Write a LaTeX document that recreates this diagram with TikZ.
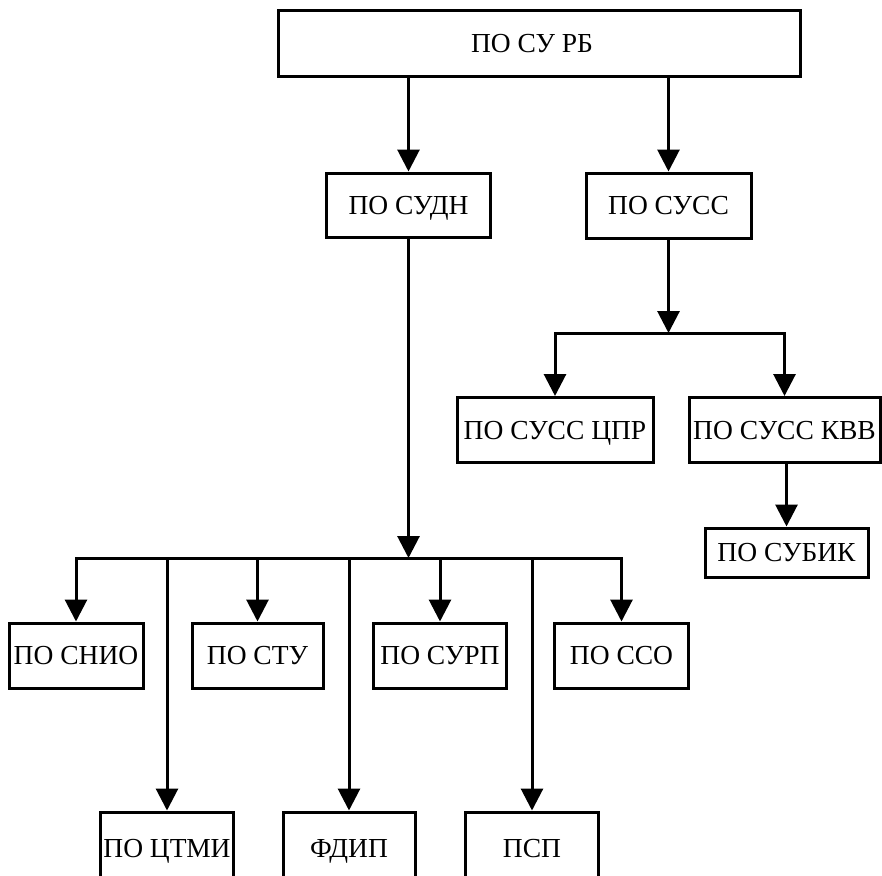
\documentclass[tikz,border=0pt]{standalone}
\usepackage{fontspec}
\setmainfont{Liberation Serif}
\usetikzlibrary{arrows.meta}
\begin{document}
\begin{tikzpicture}[x=1pt,y=-1pt,
  box/.style={draw, line width=3pt, inner sep=0pt, text height=18.2pt, text depth=0pt,
    font=\fontsize{27.5}{32}\selectfont},
  arr/.style={line width=3pt, -{Triangle[length=22pt,width=22pt]}},
  arr2/.style={line width=3pt, {Triangle[length=22pt,width=22pt]}-{Triangle[length=22pt,width=22pt]}}]
\useasboundingbox (0,0) rectangle (882,875);
\clip (0,0) rectangle (882,875);

% first level
\node[box, minimum width=522pt, minimum height=65pt] (top) at (539,43.5) {\hspace*{-14pt}ПО СУ РБ};

% second level
\node[box, minimum width=164pt, minimum height=64pt] (sudn) at (408.5,205) {ПО СУДН};
\node[box, minimum width=165pt, minimum height=65pt] (suss) at (668.5,205.5) {ПО СУСС};

% branch of ПО СУСС
\node[box, minimum width=196pt, minimum height=65pt] (cpr) at (555,430) {ПО СУСС ЦПР};
\node[box, minimum width=191pt, minimum height=65pt] (kvv) at (784.5,430) {ПО СУСС КВВ};
\node[box, minimum width=163pt, minimum height=49pt] (subik) at (786.5,552.5) {ПО СУБИК};

% branch of ПО СУДН, upper row
\node[box, minimum width=134pt, minimum height=65pt] (snio) at (76,655.5) {ПО СНИО};
\node[box, minimum width=131pt, minimum height=65pt] (stu) at (257.5,655.5) {ПО СТУ};
\node[box, minimum width=133pt, minimum height=65pt] (surp) at (440,655.5) {ПО СУРП};
\node[box, minimum width=134pt, minimum height=65pt] (sso) at (621.5,655.5) {ПО ССО};

% branch of ПО СУДН, lower row
\node[box, minimum width=133pt, minimum height=72pt] (ctmi) at (167,848) {ПО ЦТМИ};
\node[box, minimum width=132pt, minimum height=72pt] (fdip) at (349,848) {ФДИП};
\node[box, minimum width=133pt, minimum height=72pt] (psp) at (532,848) {ПСП};

% junction levels
\coordinate (j1) at (668,333);
\coordinate (j2) at (408,558);

% connectors
\draw[arr] (top.south -| sudn.north) -- (sudn.north);
\draw[arr] (top.south -| suss.north) -- (suss.north);

\draw[arr] (suss.south) -- (suss.south |- j1);
\draw[arr2] (cpr.north) -- (cpr.north |- j1) -- (kvv.north |- j1) -- (kvv.north);
\draw[arr] (kvv.south -| subik.north) -- (subik.north);

\draw[arr] (sudn.south) -- (sudn.south |- j2);
\draw[arr2] (snio.north) -- (snio.north |- j2) -- (sso.north |- j2) -- (sso.north);
\draw[arr] (stu.north |- j2) -- (stu.north);
\draw[arr] (surp.north |- j2) -- (surp.north);
\draw[arr] (ctmi.north |- j2) -- (ctmi.north);
\draw[arr] (fdip.north |- j2) -- (fdip.north);
\draw[arr] (psp.north |- j2) -- (psp.north);
\end{tikzpicture}
\end{document}
